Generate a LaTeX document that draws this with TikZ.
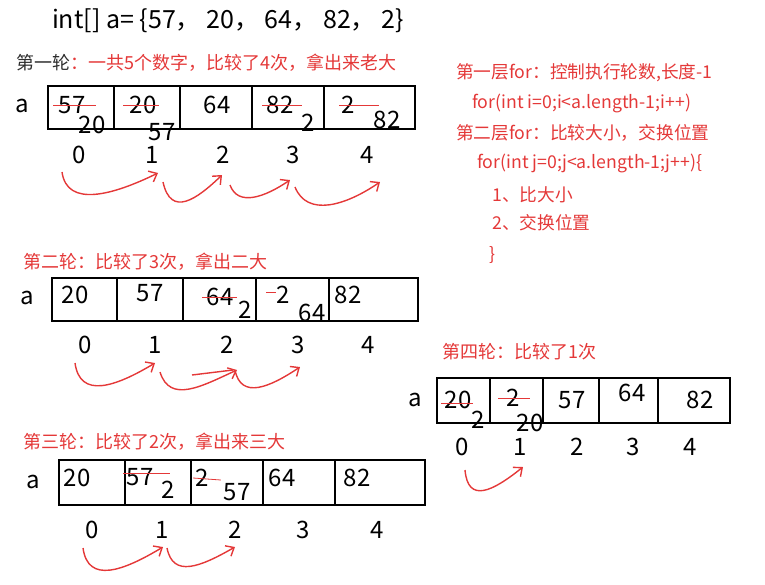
\documentclass[tikz,border=0pt]{standalone}
\usepackage{fontspec}
\setmainfont{Noto Sans CJK SC}
\usetikzlibrary{calc,arrows.meta}
\definecolor{redink}{RGB}{228,56,56}
\definecolor{inkgray}{RGB}{45,45,45}

\begin{document}
\begin{tikzpicture}[x=1pt,y=-1pt,
  cell/.style={draw=black,line width=1.6pt,minimum height=43pt,inner sep=0pt},
  num/.style={font=\fontsize{24}{26}\selectfont,inner sep=0pt},
  note/.style={font=\fontsize{18}{20}\selectfont,text=redink,anchor=west,inner sep=0pt},
  code/.style={font=\fontsize{17.7}{19}\selectfont,text=redink,anchor=west,inner sep=0pt},
  strike/.style={draw=redink,line width=0.8pt},
  swing/.style={draw=redink,line width=1.4pt,-{Straight Barb[length=7pt,width=12pt]}}]
				\useasboundingbox (0,0) rectangle (765,584);
				%\draw[color=gray,step=10pt, help lines,opacity=0.3] (0,0) grid (765,584); %help grids
				\node[num,font=\fontsize{25}{27}\selectfont] (title) at (228,21) {int[] a= \{57，\ 20，\ 64，\ 82，\ 2\}};
				% round 1
				\node[note,text=inkgray] (r1t) at (16,63) {第一轮\textcolor{redink}{：一共5个数字，比较了4次，拿出来老大}};
				\node[num] (r1a) at (22,106) {a};
				\node[cell,minimum width=66pt] (r1c0) at (81,107.5) {};
				\node[cell,minimum width=66pt] (r1c1) at (147,107.5) {};
				\node[cell,minimum width=72pt] (r1c2) at (216,107.5) {};
				\node[cell,minimum width=72pt] (r1c3) at (288,107.5) {};
				\node[cell,minimum width=91pt] (r1c4) at (369.5,107.5) {};
				\node[num] (r1o0) at (72,105) {57};
				\node[num] (r1n0) at (92,125) {20};
				\node[num] (r1o1) at (143,105) {20};
				\node[num] (r1n1) at (162,132) {57};
				\node[num] (r1v2) at (217,105) {64};
				\node[num] (r1o3) at (280,105) {82};
				\node[num] (r1n3) at (308,123) {2};
				\node[num] (r1o4) at (348,105) {2};
				\node[num] (r1n4) at (387,120) {82};
				\draw[strike] ([xshift=-5pt]r1o0.west) -- ([xshift=10pt]r1o0.east);
				\draw[strike] ([xshift=-6pt]r1o1.west) -- ([xshift=2pt]r1o1.east);
				\draw[strike] ([xshift=-4pt]r1o3.west) -- ([xshift=8pt]r1o3.east);
				\draw[strike] ([xshift=-2pt]r1o4.west) -- ([xshift=24pt]r1o4.east);
				\foreach \i/\x in {0/79,1/152,2/223,3/293,4/367}
					\node[num] (r1i\i) at (\x,155) {\i};
				\draw[swing] ($(r1i0)+(-17,17)$) .. controls +(5,36) and +(-45,22) .. ($(r1i1)+(6,18)$);
				\draw[swing] ($(r1i1)+(11,27)$) .. controls +(8,36) and +(-25,24) .. ($(r1i2)+(-1,20)$);
				\draw[swing] ($(r1i2)+(7,30)$) .. controls +(8,22) and +(-25,17) .. ($(r1i3)+(-3,25)$);
				\draw[swing] ($(r1i3)+(2,32)$) .. controls +(12,30) and +(-35,24) .. ($(r1i4)+(13,27)$);
				% right notes
				\node[code] (c1) at (456,73) {第一层for：控制执行轮数,长度-1};
				\node[code] (c2) at (472,103) {for(int i=0;i<a.length-1;i++)};
				\node[code] (c3) at (456,133) {第二层for：比较大小，交换位置};
				\node[code] (c4) at (477,163) {for(int j=0;j<a.length-1;j++)\{};
				\node[code] (c5) at (492,195) {1、比大小};
				\node[code] (c6) at (492,223) {2、交换位置};
				\node[code] (c7) at (489,255) {\}};
				% round 2
				\node[note] (r2t) at (23,262) {第二轮：比较了3次，拿出二大};
				\node[num] (r2a) at (27,298) {a};
				\node[cell,minimum width=65pt] (r2c0) at (84.5,299.5) {};
				\node[cell,minimum width=66pt] (r2c1) at (150,299.5) {};
				\node[cell,minimum width=73pt] (r2c2) at (219.5,299.5) {};
				\node[cell,minimum width=73pt] (r2c3) at (292.5,299.5) {};
				\node[cell,minimum width=89pt] (r2c4) at (373.5,299.5) {};
				\node[num] (r2v0) at (75,295) {20};
				\node[num] (r2v1) at (150,293) {57};
				\node[num] (r2o2) at (220,297) {64};
				\node[num] (r2n2) at (245,310) {2};
				\node[num] (r2o3) at (283,295) {2};
				\node[num] (r2n3) at (312,313) {64};
				\node[num] (r2v4) at (348,295) {82};
				\draw[strike] ([xshift=-4pt]r2o2.west) -- ([xshift=3pt]r2o2.east);
				\draw[strike] ([xshift=-10pt,yshift=3pt]r2o3.west) -- ([yshift=3pt]r2o3.west);
				\foreach \i/\x in {0/85,1/155,2/227,3/298,4/368}
					\node[num] (r2i\i) at (\x,345) {\i};
				\draw[swing] ($(r2i0)+(-10,18)$) .. controls +(5,36) and +(-40,24) .. ($(r2i1)+(0,18)$);
				\draw[swing] ($(r2i1)+(5,27)$) .. controls +(10,32) and +(-35,16) .. ($(r2i2)+(10,25)$);
				\draw[redink,line width=1.4pt] ($(r2i1)+(37,30)$) -- ($(r2i2)+(6,25)$);
				\draw[swing] ($(r2i2)+(8,25)$) .. controls +(6,30) and +(-30,20) .. ($(r2i3)+(2,22)$);
				% round 4
				\node[note] (r4t) at (442,352) {第四轮：比较了1次};
				\node[num] (r4a) at (415,400) {a};
				\node[cell,minimum height=45pt,minimum width=53pt] (r4c0) at (463.5,400.5) {};
				\node[cell,minimum height=45pt,minimum width=53pt] (r4c1) at (516.5,400.5) {};
				\node[cell,minimum height=45pt,minimum width=56pt] (r4c2) at (571,400.5) {};
				\node[cell,minimum height=45pt,minimum width=59pt] (r4c3) at (628.5,400.5) {};
				\node[cell,minimum height=45pt,minimum width=72pt] (r4c4) at (694,400.5) {};
				\node[num] (r4o0) at (458,400) {20};
				\node[num] (r4n0) at (478,420) {2};
				\node[num] (r4o1) at (513,398) {2};
				\node[num] (r4n1) at (530,423) {20};
				\node[num] (r4v2) at (572,400) {57};
				\node[num] (r4v3) at (632,393) {64};
				\node[num] (r4v4) at (700,400) {82};
				\draw[strike] ([xshift=-3pt,yshift=-3pt]r4o0.west) -- ([xshift=1pt,yshift=-3pt]r4o0.east);
				\draw[strike] ([xshift=-8pt]r4o1.west) -- ([xshift=10pt]r4o1.east);
				\foreach \i/\x in {0/462,1/520,2/577,3/633,4/690}
					\node[num] (r4i\i) at (\x,447) {\i};
				\draw[swing] ($(r4i0)+(3,23)$) .. controls +(3,34) and +(-30,24) .. ($(r4i1)+(3,20)$);
				% round 3
				\node[note] (r3t) at (23,442) {第三轮：比较了2次，拿出来三大};
				\node[num] (r3a) at (33,482) {a};
				\node[cell,minimum height=45pt,minimum width=66pt] (r3c0) at (92,482.5) {};
				\node[cell,minimum height=45pt,minimum width=66pt] (r3c1) at (158,482.5) {};
				\node[cell,minimum height=45pt,minimum width=72pt] (r3c2) at (227,482.5) {};
				\node[cell,minimum height=45pt,minimum width=72pt] (r3c3) at (299,482.5) {};
				\node[cell,minimum height=45pt,minimum width=90pt] (r3c4) at (380,482.5) {};
				\node[num] (r3v0) at (77,478) {20};
				\node[num] (r3o1) at (140,477) {57};
				\node[num] (r3n1) at (168,490) {2};
				\node[num] (r3o2) at (202,478) {2};
				\node[num] (r3n2) at (237,492) {57};
				\node[num] (r3v3) at (282,478) {64};
				\node[num] (r3v4) at (357,478) {82};
				\draw[strike] ([xshift=-3pt,yshift=4pt]r3o1.west) -- ([xshift=16pt,yshift=4pt]r3o1.east);
				\draw[strike] ([xshift=-2pt]r3o2.west) -- ([xshift=12pt,yshift=-2pt]r3o2.east);
				\foreach \i/\x in {0/92,1/162,2/235,3/303,4/377}
					\node[num] (r3i\i) at (\x,530) {\i};
				\draw[swing] ($(r3i0)+(-9,18)$) .. controls +(5,36) and +(-40,24) .. ($(r3i1)+(1,17)$);
				\draw[swing] ($(r3i1)+(5,18)$) .. controls +(6,30) and +(-35,20) .. ($(r3i2)+(0,17)$);
\end{tikzpicture}
\end{document}
